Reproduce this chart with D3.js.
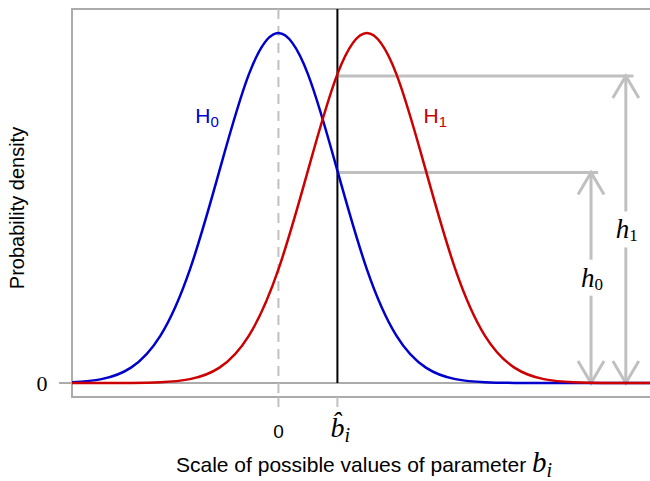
<!DOCTYPE html>
<html>
<head>
<meta charset="utf-8">
<script src="https://cdn.jsdelivr.net/npm/d3@7"></script>
<style>
  body { margin: 0; background: #fff; }
  svg { display: block; }
</style>
</head>
<body>
<svg id="chart" width="650" height="481"></svg>
<script>
// parameter values (in standard-deviation units) and density
var xGrid = [-3.5, -3, -2.5, -2, -1.5, -1, -0.5, 0, 0.5, 1, 1.5, 2, 2.5, 3, 3.5, 4, 4.5, 5, 5.5, 6, 6.5];
var densH0 = [0.0009, 0.0044, 0.0175, 0.054, 0.1295, 0.242, 0.3521, 0.3989, 0.3521, 0.242, 0.1295, 0.054, 0.0175, 0.0044, 0.0009, 0.0001, 0, 0, 0, 0, 0];
var densH1 = [0, 0, 0.0001, 0.0009, 0.0044, 0.0175, 0.054, 0.1295, 0.242, 0.3521, 0.3989, 0.3521, 0.242, 0.1295, 0.054, 0.0175, 0.0044, 0.0009, 0.0001, 0, 0];
var seriesNames = ["H", "H"];
var seriesSubs = ["0", "1"];
var xTickValues = [0, 1];          // 0 and b-hat
var yTickValues = [0];
var yTickLabels = ["0"];
var hLevels = [0.24, 0.35];         // h0, h1 : densities at b-hat
var hNames = ["h", "h"];
var hSubs = ["0", "1"];

var svg = d3.select("#chart"),
    margin = {top: 9, right: 0, bottom: 84, left: 72},
    width = +svg.attr("width") - margin.left - margin.right,
    height = +svg.attr("height") - margin.top - margin.bottom;

var x = d3.scaleLinear().domain([-3.5, 6.3]).range([margin.left, margin.left + width]);
var y = d3.scaleLinear().domain([-0.016, 0.4263]).range([margin.top + height, margin.top]);

var gray = "#ababab", light = "#c0c0c0";
var sans = "'Liberation Sans', Arial, sans-serif";
var serif = "'Liberation Serif', 'DejaVu Serif', serif";

svg.append("clipPath").attr("id", "plot")
    .append("rect").attr("x", margin.left).attr("y", margin.top)
    .attr("width", width).attr("height", height);

// box (open on the right)
svg.append("path")
    .attr("d", "M" + (margin.left + width) + "," + margin.top + "H" + margin.left +
        "V" + (margin.top + height) + "H" + (margin.left + width))
    .attr("fill", "none").attr("stroke", gray).attr("stroke-width", 2);

// zero line + y tick
svg.selectAll(".ytick").data(yTickValues).enter().append("line")
    .attr("x1", margin.left - 13).attr("x2", margin.left + width)
    .attr("y1", function (d) { return y(d); }).attr("y2", function (d) { return y(d); })
    .attr("stroke", gray).attr("stroke-width", 2);
svg.selectAll(".ylab").data(yTickLabels).enter().append("text")
    .attr("x", 42).attr("y", function (d, i) { return y(yTickValues[i]); })
    .attr("dy", "0.35em").attr("text-anchor", "middle")
    .attr("font-family", serif).attr("font-size", 22).text(function (d) { return d; });

// x ticks below the box
svg.selectAll(".xtick").data(xTickValues).enter().append("line")
    .attr("x1", function (d) { return x(d); }).attr("x2", function (d) { return x(d); })
    .attr("y1", margin.top + height).attr("y2", margin.top + height + 10)
    .attr("stroke", light).attr("stroke-width", 2);

svg.append("text").attr("x", x(xTickValues[0])).attr("y", 438)
    .attr("text-anchor", "middle").attr("font-family", sans).attr("font-size", 19).text("0");
var bh = svg.append("text").attr("x", x(xTickValues[1]) - 7).attr("y", 437)
    .attr("font-family", serif).attr("font-style", "italic").attr("font-size", 28);
bh.append("tspan").text("b\u0302");
bh.append("tspan").attr("font-size", 20).attr("dy", 5).text("i");

// dashed line at 0
svg.append("line")
    .attr("x1", x(0)).attr("x2", x(0)).attr("y1", margin.top).attr("y2", margin.top + height)
    .attr("stroke", light).attr("stroke-width", 2).attr("stroke-dasharray", "10,7");

// reference levels h0, h1
var xEnds = [5.42, 6.02], xArrows = [5.3, 5.89];
svg.selectAll(".href").data(hLevels).enter().append("line")
    .attr("x1", x(xTickValues[1])).attr("x2", function (d, i) { return x(xEnds[i]); })
    .attr("y1", function (d) { return y(d); }).attr("y2", function (d) { return y(d); })
    .attr("stroke", light).attr("stroke-width", 3);

hLevels.forEach(function (h, i) {
    var ax = x(xArrows[i]), top = y(h), bot = y(0), mid = (top + bot) / 2;
    var g = svg.append("g").attr("stroke", light).attr("stroke-width", 3).attr("fill", "none");
    g.append("line").attr("x1", ax).attr("x2", ax).attr("y1", top).attr("y2", mid - 18);
    g.append("line").attr("x1", ax).attr("x2", ax).attr("y1", mid + 18).attr("y2", bot);
    g.append("path").attr("d", "M" + (ax - 13) + "," + (top + 22) + "L" + ax + "," + top + "L" + (ax + 13) + "," + (top + 22));
    g.append("path").attr("d", "M" + (ax - 13) + "," + (bot - 22) + "L" + ax + "," + bot + "L" + (ax + 13) + "," + (bot - 22));
    var t = svg.append("text").attr("x", ax - 10).attr("y", mid + 9)
        .attr("font-family", serif).attr("font-size", 27);
    t.append("tspan").attr("font-style", "italic").text(hNames[i]);
    t.append("tspan").attr("font-size", 17).attr("dy", 3).text(hSubs[i]);
});

// b-hat line
svg.append("line")
    .attr("x1", x(xTickValues[1])).attr("x2", x(xTickValues[1]))
    .attr("y1", margin.top).attr("y2", y(0))
    .attr("stroke", "#000").attr("stroke-width", 2);

// density curves
var line = d3.line()
    .x(function (d) { return x(d[0]); })
    .y(function (d) { return y(d[1]); })
    .curve(d3.curveNatural);
var colors = ["#0000cc", "#cc0000"];
[densH0, densH1].forEach(function (dens, i) {
    svg.append("path")
        .datum(xGrid.map(function (v, j) { return [v, dens[j]]; }))
        .attr("clip-path", "url(#plot)")
        .attr("d", line).attr("fill", "none")
        .attr("stroke", colors[i]).attr("stroke-width", 2.5);
});

// series labels
var labelPos = [[-1.41, 0.296], [2.46, 0.296]];
seriesNames.forEach(function (n, i) {
    var t = svg.append("text").attr("x", x(labelPos[i][0])).attr("y", y(labelPos[i][1]))
        .attr("fill", colors[i]).attr("font-family", sans).attr("font-size", 21);
    t.append("tspan").text(n);
    t.append("tspan").attr("font-size", 15).attr("dy", 4).text(seriesSubs[i]);
});

// axis titles
svg.append("text")
    .attr("transform", "translate(24,208) rotate(-90)")
    .attr("text-anchor", "middle").attr("font-family", sans).attr("font-size", 20)
    .text("Probability density");
var xt = svg.append("text").attr("x", 176).attr("y", 472)
    .attr("font-family", sans).attr("font-size", 21);
xt.append("tspan").text("Scale of possible values of parameter ");
xt.append("tspan").attr("font-family", serif).attr("font-style", "italic").attr("font-size", 29).text("b");
xt.append("tspan").attr("font-family", serif).attr("font-style", "italic").attr("font-size", 20).attr("dy", 5).text("i");
</script>
</body>
</html>
